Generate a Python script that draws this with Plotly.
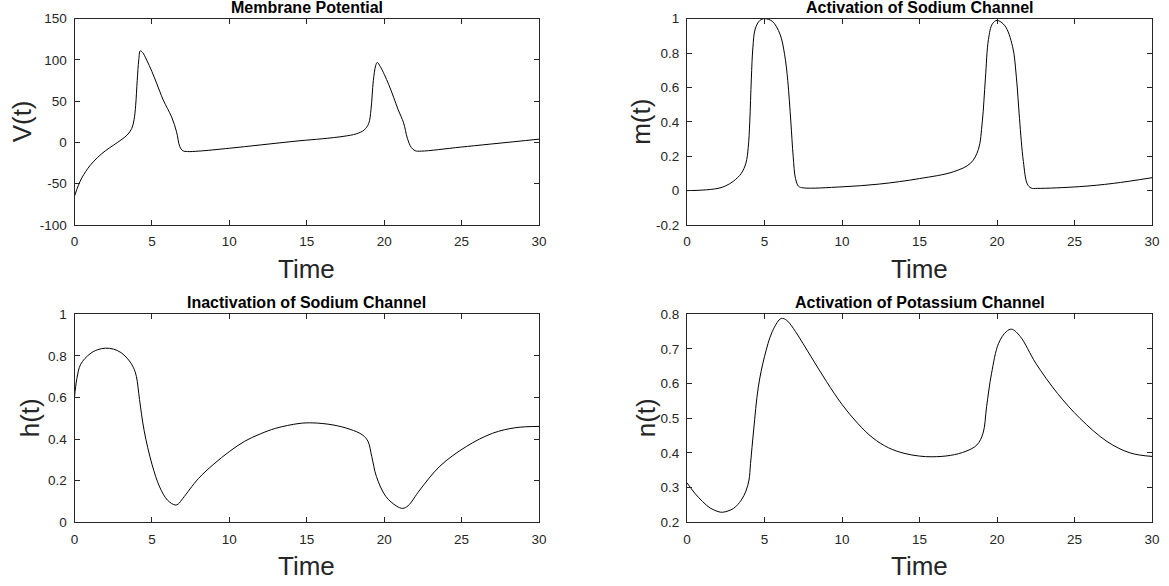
import plotly.graph_objects as go

# Hodgkin-Huxley style traces, sampled over 0..30 time units
t_v = [0, 0.25, 0.5, 1.0, 1.5, 2.0, 2.5, 3.0, 3.4, 3.7, 3.85, 3.95, 4.05, 4.15, 4.25,
       4.4, 4.66, 5.0, 5.3, 5.73, 6.27, 6.59, 6.8, 7.0, 7.3, 8, 10, 12, 14.5, 16, 17.4,
       18.2, 18.7, 19.0, 19.15, 19.3, 19.45, 19.55, 19.75, 20.3, 20.9, 21.25, 21.5,
       21.75, 22.0, 22.4, 25, 30]
v = [-65, -52, -42, -28, -18, -10, -3.5, 3, 9, 17, 28, 45, 75, 100, 111,
     109, 100, 86, 72, 51.5, 31, 13, -5, -10, -11, -10.5, -7, -3, 2, 4.5, 7.5,
     10.5, 15, 23, 40, 75, 93, 97, 92, 70, 40, 24, 5,
     -6, -10, -10.5, -5.5, 4]

t_m = [0, 1, 2, 2.5, 3, 3.5, 3.8, 3.95, 4.05, 4.15, 4.25, 4.4, 4.7, 5.0, 5.5, 6.0,
       6.3, 6.5, 6.7, 6.85, 7.0, 7.2, 7.5, 10, 12.4, 15, 17.2, 18.3, 18.8, 19.05,
       19.25, 19.45, 19.7, 20.0, 20.5, 21.0, 21.25, 21.45, 21.7, 21.95, 22.2, 22.6,
       25.3, 27.5, 30]
m = [0.0, 0.003, 0.013, 0.028, 0.055, 0.1, 0.16, 0.25, 0.4, 0.65, 0.83, 0.94, 0.99,
     1.0, 0.985, 0.91, 0.79, 0.64, 0.4, 0.2, 0.07, 0.025, 0.016, 0.022, 0.038, 0.07,
     0.11, 0.16, 0.24, 0.4, 0.65, 0.88, 0.97, 0.99, 0.96, 0.84, 0.66, 0.42, 0.17,
     0.04, 0.015, 0.013, 0.023, 0.042, 0.075]

t_h = [0, 0.15, 0.4, 1.0, 1.5, 2.0, 2.5, 3.0, 3.5, 3.8, 4.0, 4.2, 4.5, 5.0, 5.5, 6.0,
       6.5, 6.7, 7.0, 8.0, 9.0, 10, 11, 12, 13, 14.5, 15.4, 16.7, 17.8, 18.6, 18.95,
       19.2, 19.5, 20.1, 20.8, 21.2, 21.55, 22.3, 23.6, 25.3, 27.0, 28.5, 30]
h = [0.6, 0.69, 0.76, 0.81, 0.83, 0.837, 0.833, 0.816, 0.78, 0.745, 0.70, 0.59,
     0.44, 0.28, 0.17, 0.107, 0.083, 0.088, 0.115, 0.21, 0.28, 0.34, 0.39, 0.425,
     0.452, 0.475, 0.478, 0.468, 0.447, 0.42, 0.39, 0.316, 0.22, 0.125, 0.078,
     0.067, 0.08, 0.155, 0.27, 0.364, 0.428, 0.455, 0.461]

t_n = [0, 0.5, 1.0, 1.5, 2.0, 2.3, 3.0, 3.5, 3.8, 4.0, 4.1, 4.3, 4.6, 5.0, 5.5, 6.0,
       6.2, 6.5, 7.0, 8.0, 9.0, 10, 11, 12, 13, 14, 15, 15.8, 17.0, 18.0, 18.7, 19.1,
       19.33, 19.65, 20.1, 20.6, 20.95, 21.5, 22.5, 23.9, 25.35, 27.1, 28.6, 30]
n = [0.314, 0.284, 0.26, 0.241, 0.231, 0.229, 0.24, 0.264, 0.29, 0.322, 0.37,
     0.466, 0.59, 0.678, 0.75, 0.786, 0.788, 0.78, 0.75, 0.678, 0.606, 0.54, 0.486,
     0.443, 0.415, 0.399, 0.391, 0.389, 0.393, 0.405, 0.423, 0.457, 0.534, 0.63,
     0.716, 0.75, 0.757, 0.736, 0.659, 0.572, 0.5, 0.433, 0.4, 0.39]

x_ticks = [0, 5, 10, 15, 20, 25, 30]
v_ticks = [-100, -50, 0, 50, 100, 150]
v_ticktext = ["-100", "-50", "0", "50", "100", "150"]
m_ticks = [-0.2, 0, 0.2, 0.4, 0.6, 0.8, 1]
m_ticktext = ["-0.2", "0", "0.2", "0.4", "0.6", "0.8", "1"]
h_ticks = [0, 0.2, 0.4, 0.6, 0.8, 1]
h_ticktext = ["0", "0.2", "0.4", "0.6", "0.8", "1"]
n_ticks = [0.2, 0.3, 0.4, 0.5, 0.6, 0.7, 0.8]
n_ticktext = ["0.2", "0.3", "0.4", "0.5", "0.6", "0.7", "0.8"]

titles = ["Membrane Potential", "Activation of Sodium Channel",
          "Inactivation of Sodium Channel", "Activation of Potassium Channel"]
y_labels = ["V(t)", "m(t)", "h(t)", "n(t)"]
x_label = "Time"

W, H = 1169, 586
FONT = "Liberation Sans, Arial, Helvetica, sans-serif"
INK = "#262626"

# panel boxes in pixels: left, right, top, bottom
boxes = [(74.5, 539, 18.7, 225), (687, 1152, 18.7, 225),
         (74.5, 539, 314.3, 522.3), (687, 1152, 314.3, 522.3)]
y_ranges = [[-100, 150], [-0.2, 1], [0, 1], [0.2, 0.8]]
y_tick_sets = [(v_ticks, v_ticktext), (m_ticks, m_ticktext),
               (h_ticks, h_ticktext), (n_ticks, n_ticktext)]
series = [(t_v, v), (t_m, m), (t_h, h), (t_n, n)]
ylabel_x = [21.5, 641, 30, 646]

fig = go.Figure()
layout = dict(width=W, height=H, margin=dict(l=0, r=0, t=0, b=0, autoexpand=False),
              paper_bgcolor="white", plot_bgcolor="white", showlegend=False,
              font=dict(family=FONT, color=INK))
annotations = []

axis_common = dict(showgrid=False, zeroline=False, showline=True, linecolor=INK,
                   linewidth=1, mirror="allticks", ticks="inside", ticklen=5,
                   tickwidth=1, tickcolor=INK, automargin=False,
                   tickfont=dict(family=FONT, size=13.5, color=INK))

for i, ((l, r, tp, bt), yr, (tv, tt), (xs, ys)) in enumerate(
        zip(boxes, y_ranges, y_tick_sets, series)):
    k = "" if i == 0 else str(i + 1)
    xd = [l / W, r / W]
    yd = [1 - bt / H, 1 - tp / H]
    layout["xaxis" + k] = dict(axis_common, domain=xd, range=[0, 30],
                               tickvals=x_ticks, anchor="y" + k,
                               ticklabelstandoff=4)
    layout["yaxis" + k] = dict(axis_common, domain=yd, range=yr,
                               tickvals=tv, ticktext=tt, anchor="x" + k,
                               ticklabelstandoff=4)
    fig.add_trace(go.Scatter(x=xs, y=ys, mode="lines", xaxis="x" + k, yaxis="y" + k,
                             line=dict(color="black", width=1, shape="spline",
                                       smoothing=1.0)))
    cx = (l + r) / 2
    annotations.append(dict(text="<b>" + titles[i] + "</b>", x=cx / W, y=1 - (tp - 11.5) / H,
                            xref="paper", yref="paper", xanchor="center",
                            yanchor="middle", showarrow=False,
                            font=dict(family=FONT, size=16, color="black")))
    annotations.append(dict(text=x_label, x=cx / W, y=1 - (bt + 44) / H,
                            xref="paper", yref="paper", xanchor="center",
                            yanchor="middle", showarrow=False,
                            font=dict(family=FONT, size=26, color=INK)))
    annotations.append(dict(text=y_labels[i], x=ylabel_x[i] / W,
                            y=1 - (tp + bt) / 2 / H, xref="paper", yref="paper",
                            xanchor="center", yanchor="middle", textangle=-90,
                            showarrow=False,
                            font=dict(family=FONT, size=26, color=INK)))

layout["annotations"] = annotations
fig.update_layout(**layout)
fig.write_html("out.html")
